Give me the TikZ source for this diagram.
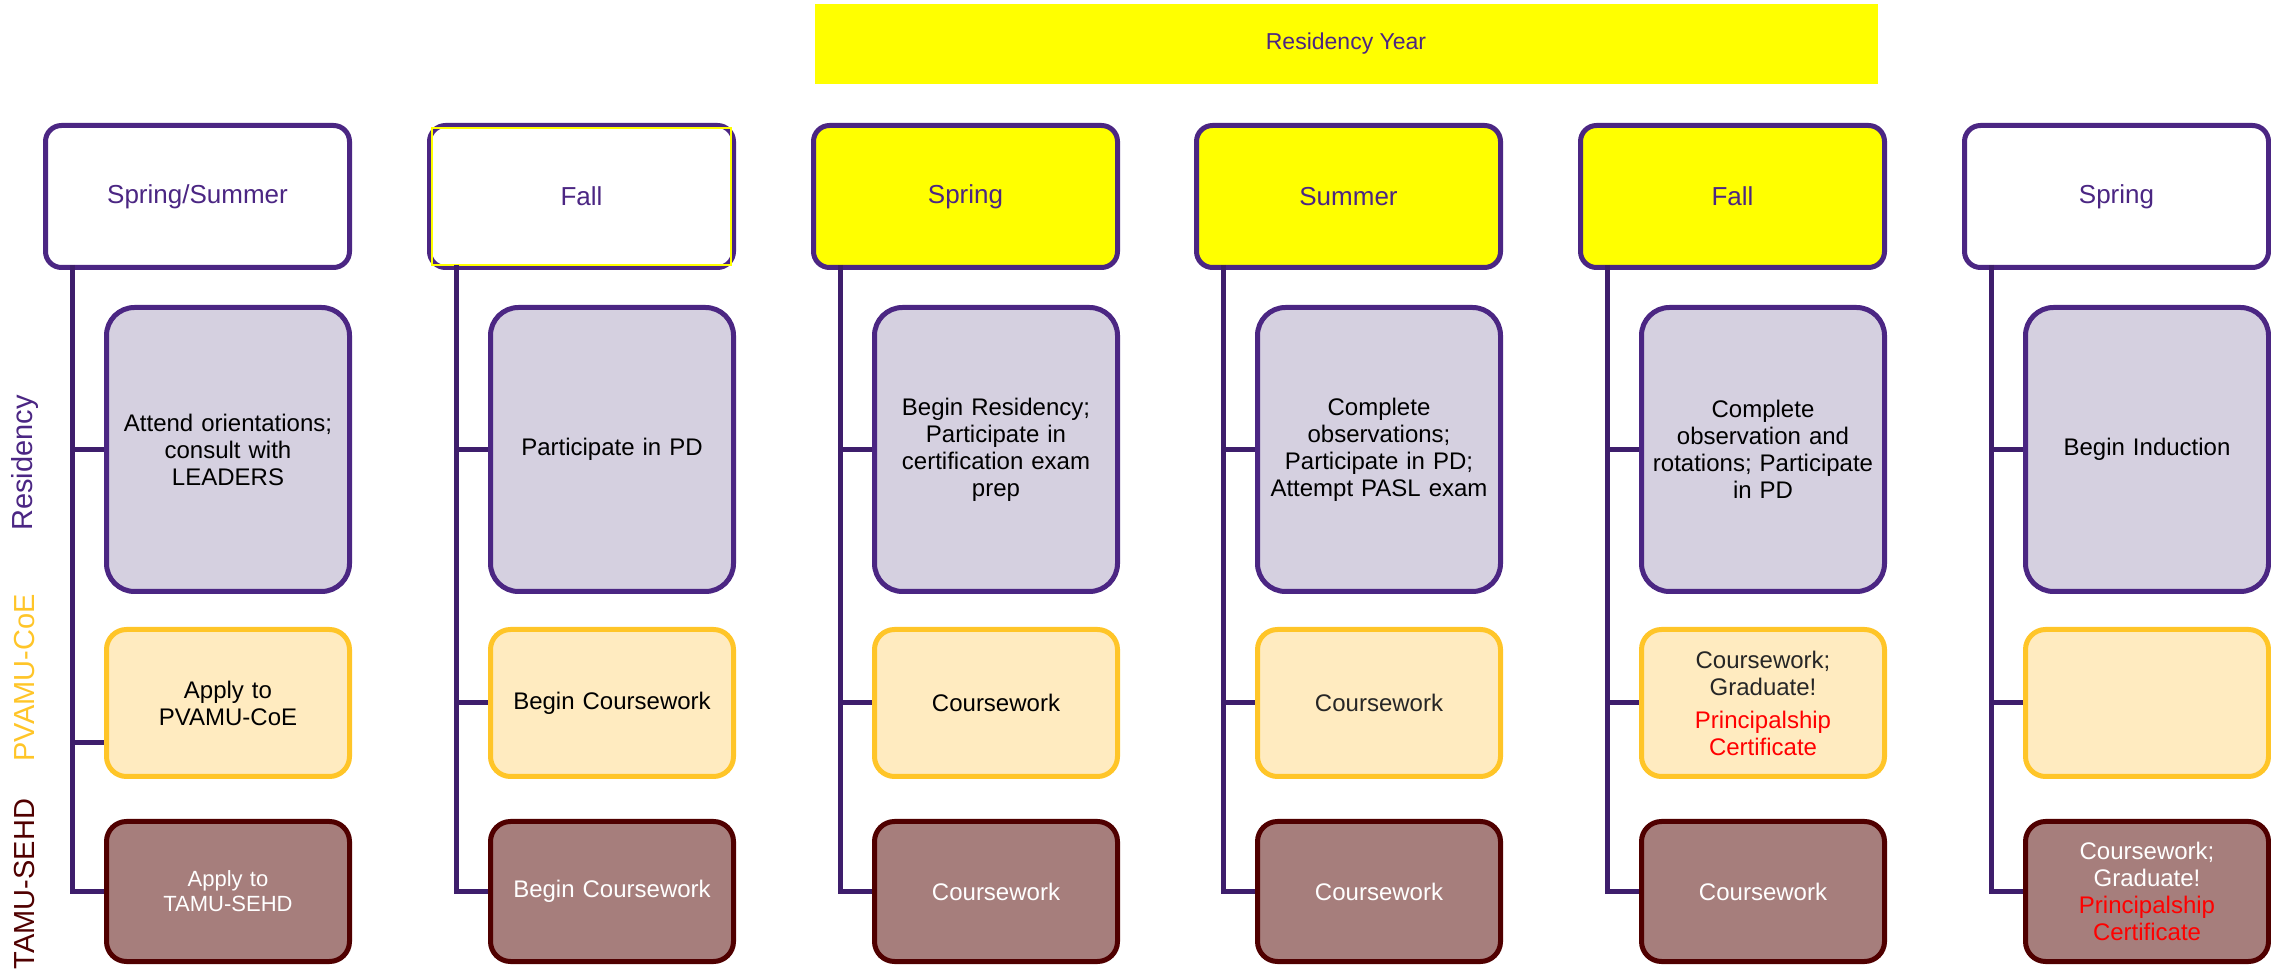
\documentclass[tikz,border=0pt]{standalone}
\usepackage{fontspec}
\setmainfont{Liberation Sans}
\usepackage{xcolor}
\usetikzlibrary{positioning, calc}
\definecolor{LeadPurple}{RGB}{75, 38, 131}
\definecolor{LeadPlum}{RGB}{62, 30, 108}
\definecolor{LeadLavender}{RGB}{213, 208, 224}
\definecolor{LeadGold}{RGB}{255, 197, 40}
\definecolor{LeadCream}{RGB}{255, 235, 192}
\definecolor{LeadMaroon}{RGB}{80, 0, 0}
\definecolor{LeadRose}{RGB}{166, 126, 124}
\definecolor{LeadYellow}{RGB}{255, 255, 0}
\definecolor{LeadInk}{RGB}{38, 38, 38}

\begin{document}
\begin{tikzpicture}[x=0.5pt,y=-0.5pt,
  banner/.style={fill=LeadYellow, minimum width=531.5pt, minimum height=40pt, inner sep=0pt,
    text=LeadPurple, font=\fontsize{11.5}{13}\selectfont},
  seasonbox/.style={draw=LeadPurple, line width=2.5pt, rounded corners=8pt, anchor=north west,
    minimum width=152pt, minimum height=71pt, inner sep=0pt,
    text=LeadPurple, font=\fontsize{13}{15}\selectfont},
  taskbox/.style={line width=2.5pt, anchor=north west, minimum width=121.5pt, inner sep=0pt,
    align=center, text width=118pt, font=\fontsize{12}{13.5}\selectfont},
  resbox/.style={taskbox, draw=LeadPurple, fill=LeadLavender, rounded corners=14pt, minimum height=142pt},
  pvbox/.style={taskbox, draw=LeadGold, fill=LeadCream, rounded corners=10pt, minimum height=73.5pt},
  tabox/.style={taskbox, draw=LeadMaroon, fill=LeadRose, rounded corners=10pt, minimum height=70pt, text=white},
  trunk/.style={draw=LeadPlum, line width=2.5pt},
  sidelabel/.style={rotate=90, font=\fontsize{14.5}{16}\selectfont}]
  \path[use as bounding box] (0,0) rectangle (2271,977);

  % banner over the residency terms
  \node[banner] (year) at (1346,44) {Residency Year};

  % term headers
  \foreach \i/\x/\term/\shade in {1/43/{Spring/Summer}/white, 2/427/Fall/white, 3/811/Spring/LeadYellow,
      4/1194/Summer/LeadYellow, 5/1578/Fall/LeadYellow, 6/1962/Spring/white}{
    \node[seasonbox, fill=\shade] (hd\i) at (\x,123) {\term};
  }
  \draw[LeadYellow, line width=0.6pt] ($(hd2.north west)+(5,5)$) rectangle ($(hd2.south east)+(-5,-5)$);

  % row labels
  \node[sidelabel, text=LeadPurple] (lblres) at (25,463) {Residency};
  \node[sidelabel, text=LeadGold] (lblpv) at (25,678) {PVAMU-CoE};
  \node[sidelabel, text=LeadMaroon] (lblta) at (25,884) {TAMU-SEHD};

  % residency row
  \node[resbox] (res1) at (104,305) {Attend orientations;\\consult with\\LEADERS};
  \node[resbox] (res2) at (488,305) {Participate in PD};
  \node[resbox] (res3) at (872,305) {Begin Residency;\\Participate in\\certification exam\\prep};
  \node[resbox] (res4) at (1255,305) {Complete\\observations;\\Participate in PD;\\Attempt PASL exam};
  \node[resbox] (res5) at (1639,305) {Complete\\observation and\\rotations; Participate\\in PD};
  \node[resbox] (res6) at (2023,305) {Begin Induction};

  % PVAMU-CoE row
  \node[pvbox] (pv1) at (104,627) {Apply to\\PVAMU-CoE};
  \node[pvbox] (pv2) at (488,627) {Begin Coursework};
  \node[pvbox] (pv3) at (872,627) {Coursework};
  \node[pvbox, text=LeadInk] (pv4) at (1255,627) {Coursework};
  \node[pvbox, text=LeadInk] (pv5) at (1639,627) {Coursework;\\Graduate!\\[3pt]
    \textcolor{red}{Principalship}\\\textcolor{red}{Certificate}};
  \node[pvbox] (pv6) at (2023,627) {};

  % TAMU-SEHD row
  \node[tabox, font=\fontsize{11}{12.5}\selectfont] (ta1) at (104,819) {Apply to\\TAMU-SEHD};
  \node[tabox] (ta2) at (488,819) {Begin Coursework};
  \node[tabox] (ta3) at (872,819) {Coursework};
  \node[tabox] (ta4) at (1255,819) {Coursework};
  \node[tabox] (ta5) at (1639,819) {Coursework};
  \node[tabox] (ta6) at (2023,819) {Coursework;\\Graduate!\\
    \textcolor{red}{Principalship}\\\textcolor{red}{Certificate}};

  % trunks and branches
  \foreach \i/\x in {1/43,2/427,3/811,4/1194,5/1578,6/1962}{
    \coordinate (tr\i) at (\x+29,265);
    \draw[trunk] (tr\i) |- (ta\i.west);
    \draw[trunk] (tr\i |- res\i.west) -- (res\i.west);
  }
  \coordinate (pvb1) at ($(pv1.west)+(0,40)$);
  \draw[trunk] (tr1 |- pvb1) -- (pvb1);
  \foreach \i in {2,...,6}{
    \draw[trunk] (tr\i |- pv\i.west) -- (pv\i.west);
  }
\end{tikzpicture}
\end{document}
